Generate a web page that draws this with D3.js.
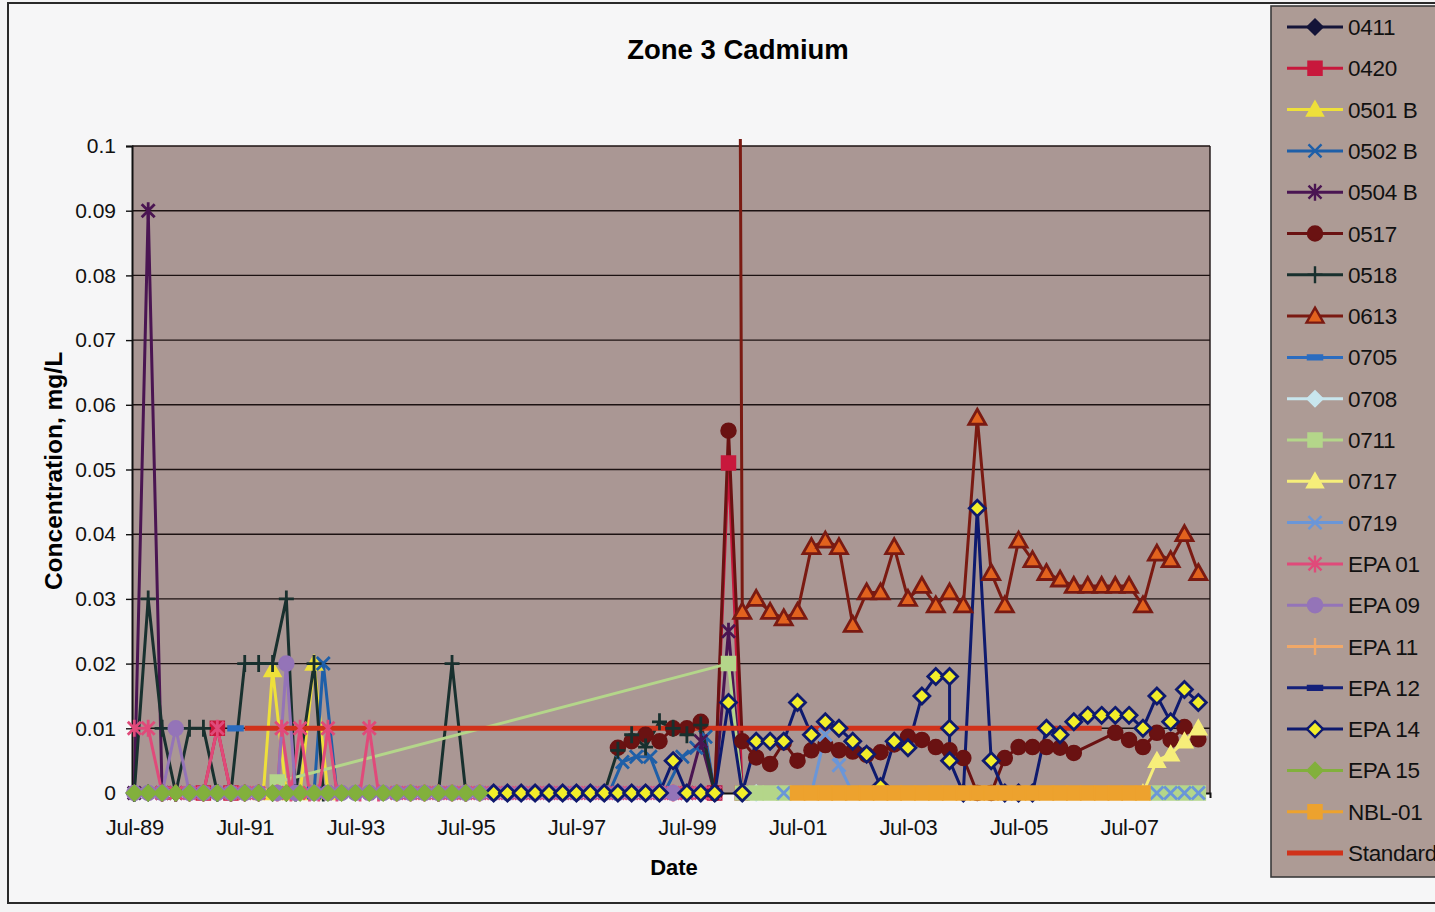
<!DOCTYPE html>
<html>
<head>
<meta charset="utf-8">
<script src="https://cdn.jsdelivr.net/npm/d3@7"></script>
<style>
  html, body { margin: 0; padding: 0; background: #f4f4f5; }
  svg { display: block; font-family: "Liberation Sans", Arial, sans-serif; }
</style>
</head>
<body>
<svg id="chart" width="1435" height="912"></svg>
<script>
// --- data (mg/L) ---
const yTicks = [0, 0.01, 0.02, 0.03, 0.04, 0.05, 0.06, 0.07, 0.08, 0.09, 0.1];
const xTickLabels = ["Jul-89", "Jul-91", "Jul-93", "Jul-95", "Jul-97", "Jul-99", "Jul-01", "Jul-03", "Jul-05", "Jul-07"];

const s0411 = [["1989-07",0],["1989-10",0],["1990-01",0],["1990-04",0],["1990-07",0],["1990-10",0],["1991-01",0],["1991-04",0],["1991-07",0],["1991-10",0],["1992-01",0],["1992-04",0]];
const s0420 = [["1990-10",0],["1991-01",0.01],["1991-04",0],["2000-01",0],["2000-04",0.051],["2000-07",0]];
const s0501B = [["1991-11",0],["1992-01",0.019],["1992-04",0],["1992-07",0],["1992-10",0.02],["1993-01",0]];
const s0502B = [["1992-10",0],["1992-12",0.02],["1993-03",0],["1998-02",0],["1998-05",0.0048],["1998-08",0.0056],["1998-11",0.0056],["1999-02",0],["1999-06",0.0056],["1999-09",0.007],["1999-11",0.0087],["2000-01",0]];
const s0504B = [["1989-07",0],["1989-10",0.09],["1990-01",0],["1990-04",0],["1999-07",0],["1999-10",0.008],["2000-01",0],["2000-04",0.025],["2000-07",0]];
const s0517 = [["1998-04",0.007],["1998-07",0.008],["1998-10",0.009],["1999-01",0.008],["1999-04",0.010],["1999-07",0.010],["1999-10",0.011],["2000-01",0],["2000-04",0.056],["2000-07",0.008],["2000-10",0.0055],["2001-01",0.0045],["2001-04",0.0078],["2001-07",0.005],["2001-10",0.0066],["2002-01",0.0074],["2002-04",0.0066],["2002-07",0.0064],["2002-10",0.0059],["2003-01",0.0063],["2003-04",0.0075],["2003-07",0.0087],["2003-10",0.0082],["2004-01",0.0071],["2004-04",0.0066],["2004-07",0.0054],["2004-10",0],["2005-01",0],["2005-04",0.0054],["2005-07",0.0071],["2005-10",0.0071],["2006-01",0.0071],["2006-04",0.007],["2006-07",0.0062],["2007-04",0.0093],["2007-07",0.0082],["2007-10",0.0071],["2008-01",0.0093],["2008-04",0.0082],["2008-07",0.0102],["2008-10",0.0083]];
const s0518 = [["1989-07",0],["1989-10",0.03],["1990-01",0.01],["1990-04",0],["1990-07",0.01],["1990-10",0.01],["1991-01",0],["1991-04",0],["1991-07",0.02],["1991-10",0.02],["1992-01",0.02],["1992-04",0.03],["1992-06",0],["1992-10",0.02],["1992-12",0],["1995-01",0],["1995-04",0.02],["1995-07",0],["1998-01",0],["1998-04",0.0066],["1998-07",0.009],["1998-10",0.0071],["1999-01",0.011],["1999-04",0.010],["1999-07",0.009],["1999-10",0.0105],["2000-01",0]];
const s0613 = [["2000-06",0.2],["2000-07",0.028],["2000-10",0.030],["2001-01",0.028],["2001-04",0.027],["2001-07",0.028],["2001-10",0.038],["2002-01",0.039],["2002-04",0.038],["2002-07",0.026],["2002-10",0.031],["2003-01",0.031],["2003-04",0.038],["2003-07",0.030],["2003-10",0.032],["2004-01",0.029],["2004-04",0.031],["2004-07",0.029],["2004-10",0.058],["2005-01",0.034],["2005-04",0.029],["2005-07",0.039],["2005-10",0.036],["2006-01",0.034],["2006-04",0.033],["2006-07",0.032],["2006-10",0.032],["2007-01",0.032],["2007-04",0.032],["2007-07",0.032],["2007-10",0.029],["2008-01",0.037],["2008-04",0.036],["2008-07",0.040],["2008-10",0.034]];
const s0705 = [["1991-05",0.01]];
const s0708 = [["2000-07",0],["2000-10",0]];
const s0711 = [["1992-02",0.0017],["2000-04",0.02],["2000-07",0],["2000-10",0],["2001-01",0],["2001-04",0],["2008-01",0],["2008-04",0],["2008-07",0],["2008-10",0]];
const s0717 = [["2007-10",0],["2008-01",0.005],["2008-04",0.006],["2008-07",0.008],["2008-10",0.01]];
const s0719 = [["2001-04",0],["2001-10",0],["2002-01",0.009],["2002-04",0.0043],["2002-07",0],["2008-01",0],["2008-04",0],["2008-07",0],["2008-10",0]];
const sEPA01 = [["1989-07",0.01],["1989-10",0.01],["1990-01",0],["1990-04",0],["1990-07",0],["1990-10",0],["1991-01",0.01],["1991-04",0],["1991-07",0],["1991-10",0],["1992-02",0],["1992-03",0.01],["1992-05",0],["1992-07",0.01],["1992-09",0],["1992-11",0],["1993-01",0.01],["1993-03",0],["1993-08",0],["1993-10",0.01],["1993-12",0],["1994-04",0],["1994-07",0],["1994-10",0],["1995-01",0],["1995-04",0],["1995-07",0],["1995-10",0],["1996-01",0],["1996-04",0],["1996-07",0],["1996-10",0],["1997-01",0],["1997-04",0],["1997-07",0],["1997-10",0],["1998-01",0],["1998-04",0],["1998-07",0],["1998-10",0],["1999-01",0],["1999-04",0],["1999-07",0],["1999-10",0],["2000-01",0]];
const sEPA09 = [["1989-07",0],["1989-10",0],["1990-01",0],["1990-04",0.01],["1990-07",0],["1990-10",0],["1991-01",0],["1991-04",0],["1991-07",0],["1991-10",0],["1992-02",0],["1992-04",0.02],["1992-06",0],["1992-10",0],["1993-01",0],["1993-04",0],["1993-07",0],["1993-10",0],["1994-01",0],["1994-04",0],["1994-07",0],["1994-10",0],["1995-01",0],["1995-04",0],["1995-07",0],["1995-10",0],["1996-01",0],["1996-04",0],["1996-07",0],["1996-10",0],["1997-01",0],["1997-04",0],["1997-07",0],["1997-10",0],["1998-01",0],["1998-04",0],["1998-07",0],["1998-10",0],["1999-01",0],["1999-04",0]];
const sEPA11 = [];
const sEPA12 = [];
const sEPA14 = [["1996-01",0],["1996-04",0],["1996-07",0],["1996-10",0],["1997-01",0],["1997-04",0],["1997-07",0],["1997-10",0],["1998-01",0],["1998-04",0],["1998-07",0],["1998-10",0],["1999-01",0],["1999-04",0.005],["1999-07",0],["1999-10",0],["2000-01",0],["2000-04",0.014],["2000-07",0],["2000-10",0.008],["2001-01",0.008],["2001-04",0.008],["2001-07",0.014],["2001-10",0.009],["2002-01",0.011],["2002-04",0.010],["2002-07",0.008],["2002-10",0.006],["2003-01",0.001],["2003-04",0.008],["2003-07",0.007],["2003-10",0.015],["2004-01",0.018],["2004-04",0.018],["2004-04",0.010],["2004-04",0.005],["2004-07",0],["2004-10",0.044],["2005-01",0.005],["2005-04",0],["2005-07",0],["2005-10",0],["2006-01",0.010],["2006-04",0.009],["2006-07",0.011],["2006-10",0.012],["2007-01",0.012],["2007-04",0.012],["2007-07",0.012],["2007-10",0.010],["2008-01",0.015],["2008-04",0.011],["2008-07",0.016],["2008-10",0.014]];
const sEPA15 = [["1989-07",0],["1989-10",0],["1990-01",0],["1990-04",0],["1990-07",0],["1990-10",0],["1991-01",0],["1991-04",0],["1991-07",0],["1991-10",0],["1992-01",0],["1992-04",0],["1992-07",0],["1992-10",0],["1993-01",0],["1993-04",0],["1993-07",0],["1993-10",0],["1994-01",0],["1994-04",0],["1994-07",0],["1994-10",0],["1995-01",0],["1995-04",0],["1995-07",0],["1995-10",0]];
const sNBL01 = [["2001-07",0],["2001-10",0],["2002-01",0],["2002-04",0],["2002-07",0],["2002-10",0],["2003-01",0],["2003-04",0],["2003-07",0],["2003-10",0],["2004-01",0],["2004-04",0],["2004-07",0],["2004-10",0],["2005-01",0],["2005-04",0],["2005-07",0],["2005-10",0],["2006-01",0],["2006-04",0],["2006-07",0],["2006-10",0],["2007-01",0],["2007-04",0],["2007-07",0],["2007-10",0]];
const sStandard = [["1991-07",0.01],["2007-01",0.01]];

const seriesNames = ["0411","0420","0501 B","0502 B","0504 B","0517","0518","0613","0705","0708","0711","0717","0719","EPA 01","EPA 09","EPA 11","EPA 12","EPA 14","EPA 15","NBL-01","Standard"];
const seriesData = [s0411,s0420,s0501B,s0502B,s0504B,s0517,s0518,s0613,s0705,s0708,s0711,s0717,s0719,sEPA01,sEPA09,sEPA11,sEPA12,sEPA14,sEPA15,sNBL01,sStandard];

// look of each series (Excel 2003 default-ish, tinted like the scan)
const seriesStyles = [
  { color: "#141438", fill: "#141438", shape: "diamond" },
  { color: "#c8183c", fill: "#c8183c", shape: "square" },
  { color: "#eee03a", fill: "#eee03a", shape: "triangle" },
  { color: "#1e5fa8", fill: "none",    shape: "x" },
  { color: "#4a1552", fill: "none",    shape: "star" },
  { color: "#6a1212", fill: "#6a1212", shape: "circle" },
  { color: "#18302e", fill: "none",    shape: "plus" },
  { color: "#7a1a12", fill: "#e2621e", shape: "triangle" },
  { color: "#2a6cc0", fill: "#2a6cc0", shape: "dash" },
  { color: "#c8e6ee", fill: "#c8e6ee", shape: "diamond" },
  { color: "#b4d68a", fill: "#b4d68a", shape: "square" },
  { color: "#f6ee7a", fill: "#f6ee7a", shape: "triangle" },
  { color: "#6a96d8", fill: "none",    shape: "x" },
  { color: "#e04a7a", fill: "none",    shape: "star" },
  { color: "#9474b8", fill: "#9474b8", shape: "circle" },
  { color: "#f0a868", fill: "none",    shape: "plus" },
  { color: "#14207a", fill: "#14207a", shape: "dash" },
  { color: "#0e1a6e", fill: "#f2ee2a", shape: "diamond" },
  { color: "#82b03c", fill: "#82b03c", shape: "diamond" },
  { color: "#eda22e", fill: "#eda22e", shape: "square" },
  { color: "#d0321a", fill: "none",    shape: null, width: 5 }
];

// --- chart ---
const svg = d3.select("#chart");
const plot = { left: 132, right: 1210, top: 146, bottom: 793 };

const parseMonth = d3.timeParse("%Y-%m");
const toDate = s => d3.timeDay.offset(parseMonth(s), 15);

const x = d3.scaleTime()
  .domain([new Date(1989, 6, 1), new Date(2009, 0, 1)])
  .range([plot.left, plot.right]);
const y = d3.scaleLinear().domain([0, 0.1]).range([plot.bottom, plot.top]);

// chart area border
svg.append("rect")
  .attr("x", 8).attr("y", 3).attr("width", 1460).attr("height", 900)
  .attr("fill", "#f6f6f7").attr("stroke", "#2a2a2a").attr("stroke-width", 2);

// title and axis titles
svg.append("text").attr("x", 738).attr("y", 59).attr("text-anchor", "middle")
  .style("font-size", "27.5px").style("font-weight", "bold")
  .text("Zone 3 Cadmium");
svg.append("text").attr("x", plot.left + (plot.right - plot.left) / 2 + 3).attr("y", 875)
  .attr("text-anchor", "middle").style("font-size", "22px").style("font-weight", "bold")
  .text("Date");
svg.append("text").attr("transform", "translate(62,471) rotate(-90)")
  .attr("text-anchor", "middle").style("font-size", "24.5px").style("font-weight", "bold")
  .text("Concentration, mg/L");

// plot background
svg.append("rect")
  .attr("x", plot.left).attr("y", plot.top)
  .attr("width", plot.right - plot.left).attr("height", plot.bottom - plot.top)
  .attr("fill", "#aa9794");

// gridlines
svg.append("g").selectAll("line").data(yTicks.filter(d => d > 0)).join("line")
  .attr("x1", plot.left).attr("x2", plot.right)
  .attr("y1", d => y(d)).attr("y2", d => y(d))
  .attr("stroke", "#1c1212").attr("stroke-width", 1.4);

// right border of plot
svg.append("line").attr("x1", plot.right).attr("x2", plot.right)
  .attr("y1", plot.top).attr("y2", plot.bottom)
  .attr("stroke", "#1c1212").attr("stroke-width", 1.4);

// y axis
const yAxis = svg.append("g")
  .attr("transform", `translate(${plot.left},0)`)
  .call(d3.axisLeft(y).tickValues(yTicks).tickSize(6).tickPadding(10)
    .tickFormat(d => String(+d.toFixed(2))));
yAxis.select(".domain").attr("stroke", "#111").attr("stroke-width", 2);
yAxis.selectAll(".tick line").attr("stroke", "#111").attr("stroke-width", 1.4);
yAxis.selectAll("text").style("font-size", "21px").attr("fill", "#111")
  .style("font-family", "'Liberation Sans', Arial, sans-serif");

// x axis
const parseLabel = d3.timeParse("%b-%y");
const xAxis = svg.append("g")
  .attr("transform", `translate(0,${plot.bottom})`)
  .call(d3.axisBottom(x)
    .tickValues(xTickLabels.map(l => d3.timeDay.offset(parseLabel(l), 15)))
    .tickSize(5).tickPadding(21)
    .tickFormat(d3.timeFormat("%b-%y")));
xAxis.select(".domain").attr("stroke", "#111").attr("stroke-width", 2);
xAxis.selectAll(".tick line").attr("stroke", "#111");
xAxis.selectAll("text").style("font-size", "22px").attr("fill", "#111")
  .style("letter-spacing", "-0.3px")
  .style("font-family", "'Liberation Sans', Arial, sans-serif");

// clip so the off-scale 0613 value stops just above the plot
svg.append("clipPath").attr("id", "plotClip")
  .append("rect").attr("x", 110).attr("y", 139).attr("width", 1120).attr("height", 680);

const series = seriesNames.map((name, i) => ({
  name,
  style: seriesStyles[i],
  points: seriesData[i].map(([m, v]) => ({ date: toDate(m), value: v }))
}));

const line = d3.line().x(d => x(d.date)).y(d => y(d.value));

function markerPath(shape) {
  switch (shape) {
    case "diamond":  return "M0,-8L8,0L0,8L-8,0Z";
    case "square":   return "M-7,-7H7V7H-7Z";
    case "triangle": return "M0,-8.5L8.5,6.5H-8.5Z";
    case "circle":   return "M7.5,0A7.5,7.5 0 1,1 -7.5,0A7.5,7.5 0 1,1 7.5,0Z";
    case "x":        return "M-6.5,-6.5L6.5,6.5M6.5,-6.5L-6.5,6.5";
    case "star":     return "M-6.5,-6.5L6.5,6.5M6.5,-6.5L-6.5,6.5M0,-8.5V8.5";
    case "plus":     return "M-7.5,0H7.5M0,-8.5V8.5";
    case "dash":     return "M-7.5,-2.4H7.5V2.4H-7.5Z";
  }
  return "";
}
const strokeOnly = s => s === "x" || s === "star" || s === "plus";

const layer = svg.append("g").attr("clip-path", "url(#plotClip)");

// Excel paints every series line first, then the markers
layer.append("g").selectAll("path").data(series.filter(s => s.points.length > 1)).join("path")
  .attr("d", s => line(s.points))
  .attr("fill", "none")
  .attr("stroke", s => s.style.color)
  .attr("stroke-width", s => s.style.width || 3)
  .attr("stroke-linejoin", "round");

const markerGroups = layer.append("g").selectAll("g")
  .data(series.filter(s => s.style.shape)).join("g");

markerGroups.selectAll("path")
  .data(s => s.points.map(p => ({ p, style: s.style })))
  .join("path")
  .attr("transform", d => `translate(${x(d.p.date)},${y(d.p.value)})`)
  .attr("d", d => markerPath(d.style.shape))
  .attr("fill", d => strokeOnly(d.style.shape) ? "none" : d.style.fill)
  .attr("stroke", d => d.style.color)
  .attr("stroke-width", d => strokeOnly(d.style.shape) ? 2.8 : (d.style.fill !== d.style.color ? 2.8 : 1.5));

// legend
const legend = svg.append("g");
legend.append("rect")
  .attr("x", 1271).attr("y", 6).attr("width", 200).attr("height", 871)
  .attr("fill", "#ad9b95").attr("stroke", "#3a3a3a").attr("stroke-width", 1.6);

const item = legend.selectAll("g.item").data(series).join("g")
  .attr("class", "item")
  .attr("transform", (d, i) => `translate(0,${27 + i * 41.3})`);

item.append("line")
  .attr("x1", 1287).attr("x2", 1343)
  .attr("stroke", d => d.style.color)
  .attr("stroke-width", d => d.style.width || 3);

item.filter(d => d.style.shape).append("path")
  .attr("transform", "translate(1315,0)")
  .attr("d", d => markerPath(d.style.shape))
  .attr("fill", d => strokeOnly(d.style.shape) ? "none" : d.style.fill)
  .attr("stroke", d => d.style.color)
  .attr("stroke-width", d => strokeOnly(d.style.shape) ? 2.4 : (d.style.fill !== d.style.color ? 2.4 : 1.5));

item.append("text")
  .attr("x", 1348).attr("y", 8)
  .style("font-size", "22.5px").style("letter-spacing", "-0.3px").attr("fill", "#111")
  .text(d => d.name);
</script>
</body>
</html>
